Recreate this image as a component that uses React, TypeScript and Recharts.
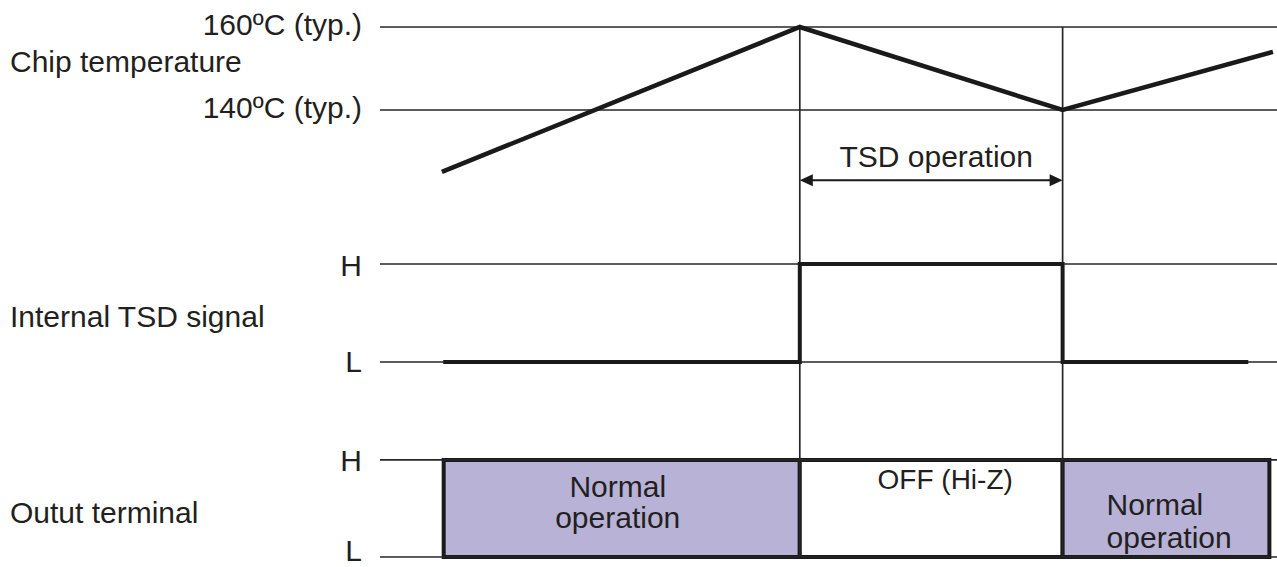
import React from 'react';
import { ComposedChart, Line, XAxis, YAxis, ReferenceLine, ReferenceArea } from 'recharts';

// ---------- data ----------
const timeDomain = [0, 100];
const eventTimes = [46.8, 76.1]; // TSD on / TSD off

// Chip temperature (°C)
const tempTimes = [6.9, 46.8, 76.1, 99.55];
const tempValues = [125.1, 160, 140, 154.0];
const tempTicks = [160, 140];
const tsdArrowLevel = 123.1;
const tsdArrowLabel = 'TSD operation';

// Internal TSD signal (0 = L, 1 = H)
const tsdTimes = [7.05, 46.8, 76.1, 96.8];
const tsdLevels = [0, 1, 0, 0];
const levelTicks = [1, 0];
const levelNames = ['L', 'H'];

// Output terminal
const outStart = [7.1, 46.8, 76.1];
const outEnd = [46.8, 76.1, 99.15];
const outLabels = [['Normal', 'operation'], ['OFF (Hi-Z)'], ['Normal', 'operation']];
const rowTitles = ['Chip temperature', 'Internal TSD signal', 'Outut terminal'];

// ---------- style / layout ----------
const W = 1277;
const AXIS_W = 380;
const FONT = '"Liberation Sans", Arial, Helvetica, sans-serif';
const FS = 30;
const TEXT = '#231f20';
const INK = '#1a1a1a';
const THIN = '#262626';
const PURPLE = '#b8b2d6';
const outFills = [PURPLE, '#ffffff', PURPLE];
const outLabelLayout = [
  { anchor: 'middle', dx: -4, baselines: [-11.5, 19.5], size: 30 },
  { anchor: 'middle', dx: 14, baselines: [-19.5], size: 28 },
  { anchor: 'start', dx: 44, baselines: [6.5, 39.5], size: 30 },
];

const panels = {
  temp: { top: 0, height: 220, domain: [113.5, 166.5] },
  tsd: { top: 220, height: 190, domain: [-0.49, 1.449] },
  out: { top: 410, height: 157, domain: [-0.103, 1.515] },
};

const tempData = tempTimes.map((t, i) => ({ t, v: tempValues[i] }));
const tsdData = tsdTimes.map((t, i) => ({ t, v: tsdLevels[i] }));
const outData = outStart.map((t) => ({ t }));

const makeTick = (fmt: (v: number) => string, dyFor: (v: number) => number) => (props: any) => {
  const { x, y, payload } = props;
  return (
    <text x={x} y={y} dy={dyFor(payload.value)} textAnchor="end" fontFamily={FONT} fontSize={FS} fill={TEXT}>
      {fmt(payload.value)}
    </text>
  );
};

const Title = (props: any) => {
  const { viewBox, text, baseline } = props;
  return (
    <text x={10} y={(viewBox?.y ?? 0) + baseline} fontFamily={FONT} fontSize={FS} fill={TEXT}>
      {text}
    </text>
  );
};

const ArrowShape = (p: any) => {
  const { x1, y1, x2 } = p;
  const L = 13;
  const H = 6;
  return (
    <g>
      <line x1={x1 + L - 1} y1={y1} x2={x2 - L + 1} y2={y1} stroke={INK} strokeWidth={2} />
      <polygon points={`${x1},${y1} ${x1 + L},${y1 - H} ${x1 + L},${y1 + H}`} fill={INK} />
      <polygon points={`${x2},${y1} ${x2 - L},${y1 - H} ${x2 - L},${y1 + H}`} fill={INK} />
      <text x={(x1 + x2) / 2 + 5} y={y1 - 13} textAnchor="middle" fontFamily={FONT} fontSize={FS} fill={TEXT}>
        {tsdArrowLabel}
      </text>
    </g>
  );
};

const AreaLabel = (props: any) => {
  const { viewBox, lines, layout } = props;
  if (!viewBox) return null;
  const cx = viewBox.x + viewBox.width / 2;
  const cy = viewBox.y + viewBox.height / 2;
  const x = layout.anchor === 'start' ? viewBox.x + layout.dx : cx + layout.dx;
  return (
    <text fontFamily={FONT} fontSize={layout.size} fill={TEXT} textAnchor={layout.anchor}>
      {lines.map((ln: string, i: number) => (
        <tspan key={i} x={x} y={cy + layout.baselines[i]}>
          {ln}
        </tspan>
      ))}
    </text>
  );
};

const margin = { top: 0, right: 0, bottom: 0, left: 0 };
const thinLine = { stroke: THIN, strokeWidth: 1.7 };

export default function App() {
  return (
    <div style={{ position: 'absolute', left: 0, top: 0, width: W, height: 567, background: '#fff' }}>
      {/* Chip temperature */}
      <div style={{ position: 'absolute', left: 0, top: panels.temp.top }}>
        <ComposedChart width={W} height={panels.temp.height} data={tempData} margin={margin}>
          <XAxis type="number" dataKey="t" domain={timeDomain} hide allowDataOverflow />
          <YAxis
            type="number"
            domain={panels.temp.domain}
            allowDataOverflow
            width={AXIS_W}
            ticks={tempTicks}
            interval={0}
            axisLine={false}
            tickLine={false}
            tickSize={0}
            tickMargin={18}
            tick={makeTick((v) => `${v}ºC (typ.)`, () => 8)}
            label={<Title text={rowTitles[0]} baseline={72} />}
          />
          {tempTicks.map((v) => (
            <ReferenceLine key={`h${v}`} y={v} {...thinLine} />
          ))}
          {eventTimes.map((t) => (
            <ReferenceLine
              key={`v${t}`}
              segment={[{ x: t, y: tempTicks[0] }, { x: t, y: panels.temp.domain[0] }]}
              {...thinLine}
            />
          ))}
          <ReferenceLine
            segment={[{ x: eventTimes[0], y: tsdArrowLevel }, { x: eventTimes[1], y: tsdArrowLevel }]}
            shape={ArrowShape}
          />
          <Line
            type="linear"
            dataKey="v"
            stroke={INK}
            strokeWidth={4.5}
            dot={false}
            isAnimationActive={false}
          />
        </ComposedChart>
      </div>

      {/* Internal TSD signal */}
      <div style={{ position: 'absolute', left: 0, top: panels.tsd.top }}>
        <ComposedChart width={W} height={panels.tsd.height} data={tsdData} margin={margin}>
          <XAxis type="number" dataKey="t" domain={timeDomain} hide allowDataOverflow />
          <YAxis
            type="number"
            domain={panels.tsd.domain}
            allowDataOverflow
            width={AXIS_W}
            ticks={levelTicks}
            interval={0}
            axisLine={false}
            tickLine={false}
            tickSize={0}
            tickMargin={18}
            tick={makeTick((v) => levelNames[v], (v) => (v === 1 ? 12 : 10))}
            label={<Title text={rowTitles[1]} baseline={107} />}
          />
          {levelTicks.map((v) => (
            <ReferenceLine key={`h${v}`} y={v} {...thinLine} />
          ))}
          {eventTimes.map((t) => (
            <ReferenceLine key={`v${t}`} x={t} {...thinLine} />
          ))}
          <Line
            type="stepAfter"
            dataKey="v"
            stroke={INK}
            strokeWidth={4}
            dot={false}
            isAnimationActive={false}
          />
        </ComposedChart>
      </div>

      {/* Output terminal */}
      <div style={{ position: 'absolute', left: 0, top: panels.out.top }}>
        <ComposedChart width={W} height={panels.out.height} data={outData} margin={margin}>
          <XAxis type="number" dataKey="t" domain={timeDomain} hide allowDataOverflow />
          <YAxis
            type="number"
            domain={panels.out.domain}
            allowDataOverflow
            width={AXIS_W}
            ticks={levelTicks}
            interval={0}
            axisLine={false}
            tickLine={false}
            tickSize={0}
            tickMargin={18}
            tick={makeTick((v) => levelNames[v], (v) => (v === 1 ? 11 : 3.5))}
            label={<Title text={rowTitles[2]} baseline={113} />}
          />
          {levelTicks.map((v) => (
            <ReferenceLine key={`h${v}`} y={v} {...thinLine} />
          ))}
          {eventTimes.map((t) => (
            <ReferenceLine
              key={`v${t}`}
              segment={[{ x: t, y: panels.out.domain[1] }, { x: t, y: 0 }]}
              {...thinLine}
            />
          ))}
          {outStart.map((s, i) => (
            <ReferenceArea
              key={`a${i}`}
              x1={s}
              x2={outEnd[i]}
              y1={0}
              y2={1}
              fill={outFills[i]}
              fillOpacity={1}
              stroke={INK}
              strokeWidth={4}
              label={<AreaLabel lines={outLabels[i]} layout={outLabelLayout[i]} />}
            />
          ))}
        </ComposedChart>
      </div>
    </div>
  );
}
